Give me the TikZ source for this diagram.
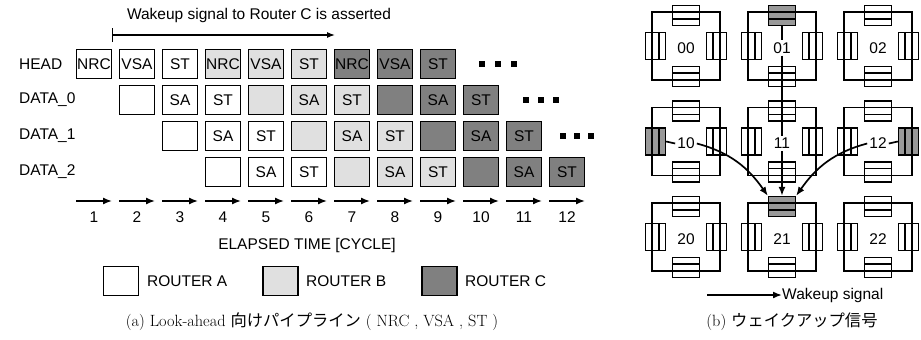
\documentclass[tikz,border=0pt]{standalone}
\usepackage{fontspec}
\newfontfamily\arialf{Liberation Sans}
\newfontfamily\jpfont{Noto Sans CJK JP}
\usetikzlibrary{arrows.meta}
\definecolor{cB}{HTML}{E0E0E0}
\definecolor{cC}{HTML}{808080}
\definecolor{cG}{HTML}{999999}
\newcommand{\labfont}{\arialf\fontsize{15.5}{18}\selectfont}
\newcommand{\capfont}{\fontsize{16.3}{19}\selectfont}
\begin{document}
\begin{tikzpicture}[x=1pt,y=-1pt,
  cell/.style={draw=black, line width=1.5pt, minimum width=35pt, minimum height=29pt, inner sep=0pt, font=\labfont},
  lab/.style={font=\labfont, inner sep=0pt},
  tarrow/.style={line width=1.4pt, -{Latex[length=9pt,width=7pt]}},
  hbuf/.style={draw, line width=1.3pt, fill=#1, minimum width=27pt, minimum height=20pt, inner sep=0pt,
    path picture={\draw[line width=1.3pt] ([yshift=3.5pt]path picture bounding box.west) -- ([yshift=3.5pt]path picture bounding box.east)
      ([yshift=-3.5pt]path picture bounding box.west) -- ([yshift=-3.5pt]path picture bounding box.east);}},
  hbuf/.default=white,
  vbuf/.style={draw, line width=1.3pt, fill=#1, minimum width=20pt, minimum height=27pt, inner sep=0pt,
    path picture={\draw[line width=1.3pt] ([xshift=3.5pt]path picture bounding box.north) -- ([xshift=3.5pt]path picture bounding box.south)
      ([xshift=-3.5pt]path picture bounding box.north) -- ([xshift=-3.5pt]path picture bounding box.south);}},
  vbuf/.default=white,
  rsq/.style={draw, line width=1.3pt},
  rlab/.style={font=\labfont, fill=white, inner sep=2pt},
  sig/.style={line width=1.7pt, -{Latex[length=9pt,width=7pt]}},
  sigl/.style={line width=1.7pt}
]
\useasboundingbox (0,0) rectangle (921,340);

% ---------- left panel ----------
\node[lab] (wtext) at (259,15) {Wakeup signal to Router C is asserted};
\coordinate (ws) at (112,35);
\coordinate (we) at (335,35);
\draw[line width=1.3pt, {Bar[width=14pt]}-{Latex[length=8pt,width=6pt]}] (ws) -- (we);

\node[lab, anchor=west] (lhead) at (19,64) {HEAD};
\node[lab, anchor=west] (ld0) at (19,100) {DATA\_0};
\node[lab, anchor=west] (ld1) at (19,136) {DATA\_1};
\node[lab, anchor=west] (ld2) at (19,172) {DATA\_2};

\foreach \k/\t/\f in {1/NRC/white,2/VSA/white,3/ST/white,4/NRC/cB,5/VSA/cB,6/ST/cB,7/NRC/cC,8/VSA/cC,9/ST/cC}
  \node[cell, fill=\f] (h\k) at ({94+43*(\k-1)},64) {\t};
\foreach \k/\t/\f in {2//white,3/SA/white,4/ST/white,5//cB,6/SA/cB,7/ST/cB,8//cC,9/SA/cC,10/ST/cC}
  \node[cell, fill=\f] (a\k) at ({94+43*(\k-1)},100) {\t};
\foreach \k/\t/\f in {3//white,4/SA/white,5/ST/white,6//cB,7/SA/cB,8/ST/cB,9//cC,10/SA/cC,11/ST/cC}
  \node[cell, fill=\f] (b\k) at ({94+43*(\k-1)},136) {\t};
\foreach \k/\t/\f in {4//white,5/SA/white,6/ST/white,7//cB,8/SA/cB,9/ST/cB,10//cC,11/SA/cC,12/ST/cC}
  \node[cell, fill=\f] (c\k) at ({94+43*(\k-1)},172) {\t};

% continuation dots
\foreach \x in {482,498,514} \fill (\x-3.3,64-3.3) rectangle (\x+3.3,64+3.3);
\foreach \x in {526,541,556} \fill (\x-3.3,100-3.3) rectangle (\x+3.3,100+3.3);
\foreach \x in {563,577,591} \fill (\x-3.3,136-3.3) rectangle (\x+3.3,136+3.3);

% time axis
\foreach \k in {1,...,12} {
  \coordinate (ta\k) at ({94+43*(\k-1)-18},201);
  \coordinate (tb\k) at ({94+43*(\k-1)+18},201);
  \draw[tarrow] (ta\k) -- (tb\k);
  \node[lab] (n\k) at ({94+43*(\k-1)},217) {\k};
}
\node[lab] (elapsed) at (307,245) {ELAPSED TIME [CYCLE]};

% legend
\node[cell, fill=white] (legA) at (121,281) {};
\node[lab, anchor=west] (legAt) at (147,281) {ROUTER A};
\node[cell, fill=cB] (legB) at (280.5,281) {};
\node[lab, anchor=west] (legBt) at (306,281) {ROUTER B};
\node[cell, fill=cC] (legC) at (439.5,281) {};
\node[lab, anchor=west] (legCt) at (465,281) {ROUTER C};

\node[inner sep=0pt] (capa) at (312,322) {\capfont (a) Look-ahead {\jpfont 向けパイプライン} ( NRC , VSA , ST )};

% ---------- right panel ----------
\foreach \i in {0,1,2} {
  \foreach \j in {0,1,2} {
    \pgfmathsetmacro{\cx}{686+96*\j}
    \pgfmathsetmacro{\cy}{46+95.5*\i}
    \draw[rsq] (\cx-34,\cy-34) rectangle (\cx+34,\cy+34);
  }
}
\foreach \i in {0,1,2} {
  \foreach \j in {0,1,2} {
    \pgfmathsetmacro{\cx}{686+96*\j}
    \pgfmathsetmacro{\cy}{46+95.5*\i}
    \node[hbuf] (bt\i\j) at (\cx,\cy-30.5) {};
    \node[hbuf] (bb\i\j) at (\cx,\cy+30.5) {};
    \node[vbuf] (bl\i\j) at (\cx-30.5,\cy) {};
    \node[vbuf] (br\i\j) at (\cx+30.5,\cy) {};
    \node[rlab] (r\i\j) at (\cx,\cy+2) {\i\j};
  }
}
% gray (active) buffers
\node[hbuf=cG] (bt01) at (782,15.5) {};
\node[vbuf=cG] (bl10) at (655.5,141.5) {};
\node[vbuf=cG] (br12) at (908.5,141.5) {};
\node[hbuf=cG] (bt21) at (782,206.5) {};

% wakeup signals
\draw[sigl] (bt01.south) -- (r01.north);
\draw[sigl] (r01.south) -- (r11.north);
\draw[sig] (r11.south) -- (bt21.north);
\draw[sigl] (bl10.east) -- (r10.west);
\draw[sig] (r10.east) to[out=-15,in=125] (bt21.north west);
\draw[sigl] (br12.west) -- (r12.east);
\draw[sig] (r12.west) to[out=195,in=55] (bt21.north east);

% legend
\node[lab, anchor=west] (wlt) at (782,295) {Wakeup signal};
\coordinate (wl) at (707,295);
\draw[sig] (wl) -- (wlt.west);

\node[inner sep=0pt] (capb) at (792,322) {\capfont (b) {\jpfont ウェイクアップ信号}};
\end{tikzpicture}
\end{document}
